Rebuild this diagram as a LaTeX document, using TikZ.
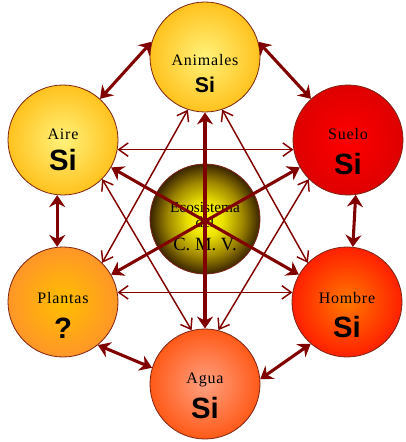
\documentclass[tikz,border=0pt]{standalone}
\usepackage{fontspec}
\setmainfont{Liberation Serif}
\newfontfamily\labfont[LetterSpace=5]{Liberation Serif}
\newfontfamily\sifont{Liberation Sans}
\usetikzlibrary{arrows.meta}
\definecolor{arr}{RGB}{128,0,0}
\definecolor{rim}{RGB}{125,35,20}
\definecolor{yelA}{RGB}{255,242,122}
\definecolor{yelB}{RGB}{255,194,30}
\definecolor{redA}{RGB}{255,0,0}
\definecolor{redB}{RGB}{222,0,0}
\definecolor{orgA}{RGB}{255,190,0}
\definecolor{orgB}{RGB}{255,150,40}
\definecolor{homA}{RGB}{255,120,0}
\definecolor{homB}{RGB}{255,32,0}
\definecolor{aguA}{RGB}{255,160,128}
\definecolor{aguB}{RGB}{255,90,24}
\definecolor{ecoA}{RGB}{255,255,0}
\definecolor{ecoB}{RGB}{236,226,0}
\definecolor{ecoC}{RGB}{160,136,0}
\definecolor{ecoD}{RGB}{58,36,0}
\pgfdeclareradialshading{shYel}{\pgfpointorigin}{color(0bp)=(yelA); color(25bp)=(yelB); color(50bp)=(yelB)}
\pgfdeclareradialshading{shRed}{\pgfpointorigin}{color(0bp)=(redA); color(25bp)=(redB); color(50bp)=(redB)}
\pgfdeclareradialshading{shOrg}{\pgfpointorigin}{color(0bp)=(orgA); color(25bp)=(orgB); color(50bp)=(orgB)}
\pgfdeclareradialshading{shHom}{\pgfpointorigin}{color(0bp)=(homA); color(25bp)=(homB); color(50bp)=(homB)}
\pgfdeclareradialshading{shAgu}{\pgfpointorigin}{color(0bp)=(aguA); color(25bp)=(aguB); color(50bp)=(aguB)}
\pgfdeclareradialshading{shEco}{\pgfpointorigin}{color(0bp)=(ecoA); color(8bp)=(ecoB); color(17bp)=(ecoC); color(25bp)=(ecoD); color(50bp)=(ecoD)}
\begin{document}
\begin{tikzpicture}[x=0.75pt,y=-0.75pt,
  ball/.style={circle, minimum size=82.5pt, inner sep=0pt, draw=rim, line width=0.6pt},
  lab/.style={font=\labfont\fontsize{12}{14}\selectfont, anchor=base, inner sep=0pt},
  si/.style={font=\sifont\bfseries\fontsize{22}{24}\selectfont, anchor=base, inner sep=0pt},
  ctext/.style={font=\fontsize{11.5}{13}\selectfont, anchor=base, inner sep=0pt},
  big/.style={draw=arr, line width=2.3pt, {Stealth[length=9pt,width=12pt,inset=3pt]}-{Stealth[length=9pt,width=12pt,inset=3pt]}},
  thinarr/.style={draw=arr, line width=1.1pt, {Straight Barb[length=7pt,width=10pt]}-{Straight Barb[length=7pt,width=10pt]}}]
\useasboundingbox (0,0) rectangle (405,442);
% circles
\node[ball, shading=shYel] (animales) at (205,57) {};
\node[ball, shading=shYel] (aire) at (63,140) {};
\node[ball, shading=shRed] (suelo) at (348,140) {};
\node[ball, shading=shOrg] (plantas) at (63,302) {};
\node[ball, shading=shHom] (hombre) at (347,302) {};
\node[ball, shading=shAgu] (agua) at (205,384) {};
\node[ball, shading=shEco] (eco) at (205,219) {};
% texts
\node[lab] (tanim) at (205,66) {Animales};
\node[si, font=\sifont\bfseries\fontsize{16}{18}\selectfont] (sanim) at (205,92.5) {Si};
\node[lab] (taire) at (63,140) {Aire};
\node[si] (saire) at (63,171) {Si};
\node[lab] (tsuelo) at (348,140) {Suelo};
\node[si] (ssuelo) at (348,174) {Si};
\node[lab] (tplantas) at (63,303) {Plantas};
\node[si] (splantas) at (63,338) {?};
\node[lab] (thombre) at (347,303) {Hombre};
\node[si] (shombre) at (347,337) {Si};
\node[lab] (tagua) at (205,383) {Agua};
\node[si] (sagua) at (205,418) {Si};
\node[ctext] (teco) at (205,212) {Ecosistema};
\node[ctext] (tdel) at (205,227) {del};
\node[ctext, font=\fontsize{14}{16}\selectfont] (tcmv) at (205,250) {C. M. V.};
% thick ring arrows
\draw[big] (animales.164) -- (aire.48);
\draw[big] (animales.16) -- (suelo.132);
\draw[big] (aire.264) -- (plantas.96);
\draw[big] (suelo.278) -- (hombre.84);
\draw[big] (plantas.309) -- (agua.163);
\draw[big] (hombre.229) -- (agua.5);
% thick through center
\draw[big] (animales) -- (agua);
\draw[big] (aire) -- (hombre);
\draw[big] (plantas) -- (suelo);
% thin arrows
\draw[thinarr] (aire.-10) -- (suelo.190);
\draw[thinarr] (plantas.10) -- (hombre.170);
\draw[thinarr] (plantas.45) -- (animales.252);
\draw[thinarr] (hombre.135) -- (animales.288);
\draw[thinarr] (aire.-45) -- (agua.104);
\draw[thinarr] (suelo.225) -- (agua.76);
\end{tikzpicture}
\end{document}
